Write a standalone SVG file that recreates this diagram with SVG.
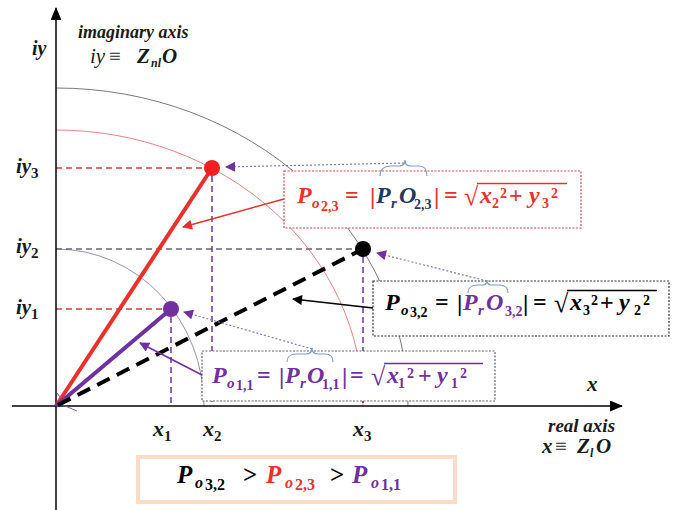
<svg xmlns="http://www.w3.org/2000/svg" width="677" height="510" viewBox="0 0 677 510">
<style>
.f{font-family:"Liberation Serif","DejaVu Serif",serif;font-size:24px;font-weight:bold;font-style:italic}
.op{font-style:normal}
.rt{font-style:normal;font-weight:normal;font-size:26px}
.sb{font-size:15px}
.sn{font-size:14px;font-style:normal}
.lbl{font-family:"Liberation Serif","DejaVu Serif",serif;font-weight:bold;font-style:italic;fill:#1a1a1a}
.arc{fill:none;stroke-width:1}
.box{fill:#fff;stroke-width:1.2;stroke-dasharray:2 1.5}
.brace{fill:none;stroke:#7f9cc4;stroke-width:1.2}
.dot{fill:none;stroke:#8a7ab8;stroke-width:1.2;stroke-dasharray:2 2}
</style>
<defs>
<marker id="axA" viewBox="0 0 12 10" refX="11" refY="5" markerWidth="13" markerHeight="11" markerUnits="userSpaceOnUse" orient="auto"><path d="M0,0 L12,5 L0,10 z" fill="#000"/></marker>
<marker id="ahP" viewBox="0 0 10 10" refX="9" refY="5" markerWidth="11" markerHeight="10" markerUnits="userSpaceOnUse" orient="auto"><path d="M0,0 L10,5 L0,10 z" fill="#7030a0"/></marker>
<marker id="ahR" viewBox="0 0 10 10" refX="9" refY="5" markerWidth="11" markerHeight="10" markerUnits="userSpaceOnUse" orient="auto"><path d="M0,0 L10,5 L0,10 z" fill="#e8312a"/></marker>
<marker id="ahK" viewBox="0 0 10 10" refX="9" refY="5" markerWidth="11" markerHeight="10" markerUnits="userSpaceOnUse" orient="auto"><path d="M0,0 L10,5 L0,10 z" fill="#000"/></marker>
</defs>
<rect width="677" height="510" fill="#fff"/>

<g id="arcs">
<path class="arc" stroke="#7a7a7a" d="M56,88 A352,318 0 0 1 408,406"/>
<path class="arc" stroke="#e58585" d="M56,130 A307,276 0 0 1 363,406"/>
<path class="arc" stroke="#9d8fb0" d="M56,249 A148,157 0 0 1 204,406"/>
</g>

<g id="guides" stroke-width="1.5" stroke-dasharray="6 4">
<line x1="56" y1="168" x2="204" y2="168" stroke="#d23c3c"/>
<line x1="56" y1="309" x2="163" y2="309" stroke="#d23c3c"/>
<line x1="56" y1="249" x2="355" y2="249" stroke="#6b6470"/>
<line x1="212" y1="176" x2="212" y2="406" stroke="#7030a0"/>
<line x1="363" y1="257" x2="363" y2="406" stroke="#7030a0"/>
<line x1="171" y1="317" x2="171" y2="406" stroke="#7030a0"/>
</g>

<g id="axes" stroke="#000" stroke-width="1.5">
<line x1="56" y1="510" x2="56" y2="8" marker-end="url(#axA)"/>
<line x1="12" y1="406" x2="622" y2="406" marker-end="url(#axA)"/>
<line x1="58" y1="403" x2="77" y2="411" stroke="#7b5ca8" stroke-width="1"/>
<line x1="57" y1="393" x2="63" y2="401" stroke="#7b5ca8" stroke-width="1"/>
</g>

<g id="vectors">
<line x1="56" y1="406" x2="212" y2="168" stroke="#e8312a" stroke-width="4"/>
<line x1="56" y1="406" x2="171" y2="309" stroke="#7030a0" stroke-width="4"/>
<line x1="58" y1="405" x2="363" y2="249" stroke="#000" stroke-width="4" stroke-dasharray="14 8"/>
</g>

<g id="point-red"><circle cx="212" cy="168" r="8" fill="#ee2020"/></g>
<g id="point-black"><circle cx="363" cy="249" r="8" fill="#000"/></g>
<g id="point-purple"><circle cx="171" cy="309" r="8" fill="#7030a0"/></g>

<g id="box-red">
<rect class="box" x="284" y="171" width="297" height="57" stroke="#c0504d"/>
<path class="brace" d="M380,176 C380,169 384,166 392,166 L399,166 C403,166 405,164 405,160 C405,164 407,166 411,166 L419,166 C424,166 427,169 427,176"/>
<text class="f" fill="#e8312a"><tspan x="297" y="203">P</tspan><tspan class="sb" x="312" y="208">o</tspan><tspan class="sn" x="321" y="211">2,3</tspan><tspan class="op" x="345" y="203">=</tspan><tspan class="op" x="370" y="204">|</tspan><tspan fill="#1f3864" x="376" y="203">P</tspan><tspan class="sb" fill="#1f3864" x="391" y="208">r</tspan><tspan fill="#1f3864" x="399" y="203">O</tspan><tspan class="sn" fill="#1f3864" x="414" y="209">2,3</tspan><tspan class="op" x="434" y="204">|</tspan><tspan class="op" x="444" y="203">=</tspan><tspan class="rt" x="464" y="205">√</tspan><tspan x="480" y="203">x</tspan><tspan class="sn" x="492" y="208">2</tspan><tspan class="sn" x="500" y="198">2</tspan><tspan class="op" x="509" y="203">+</tspan><tspan x="529" y="203">y</tspan><tspan class="sn" x="542" y="208">3</tspan><tspan class="sn" x="551" y="198">2</tspan></text>
<line x1="477" y1="183.5" x2="567" y2="183.5" stroke="#e8312a" stroke-width="1.5"/>
</g>

<g id="box-black">
<rect class="box" x="373" y="281" width="296" height="55" stroke="#333"/>
<path class="brace" d="M468,293 C468,287 471,285 478,285 L483,285 C486,285 487,283 487,280 C487,283 488,285 491,285 L499,285 C505,285 508,287 508,293"/>
<text class="f" fill="#000"><tspan x="385" y="310">P</tspan><tspan class="sb" x="401" y="315">o</tspan><tspan class="sn" x="410" y="317">3,2</tspan><tspan class="op" x="435" y="310">=</tspan><tspan class="op" x="457" y="311">|</tspan><tspan fill="#7030a0" x="463" y="310">P</tspan><tspan class="sb" fill="#7030a0" x="478" y="315">r</tspan><tspan fill="#7030a0" x="486" y="310">O</tspan><tspan class="sn" fill="#7030a0" x="505" y="316">3,2</tspan><tspan class="op" x="523" y="311">|</tspan><tspan class="op" x="533" y="310">=</tspan><tspan class="rt" x="554" y="312">√</tspan><tspan x="570" y="310">x</tspan><tspan class="sn" x="583" y="315">3</tspan><tspan class="sn" x="591" y="305">2</tspan><tspan class="op" x="600" y="310">+</tspan><tspan x="619" y="310">y</tspan><tspan class="sn" x="634" y="315">2</tspan><tspan class="sn" x="643" y="305">2</tspan></text>
<line x1="567" y1="290.5" x2="657" y2="290.5" stroke="#000" stroke-width="1.5"/>
</g>

<g id="box-purple">
<rect class="box" x="202" y="351" width="293" height="50" stroke="#666"/>
<path class="brace" d="M287,362 C287,356 290,354 297,354 L306,354 C310,354 312,352 312,348 C312,352 314,354 318,354 L325,354 C330,354 333,356 333,362"/>
<text class="f" fill="#7030a0"><tspan x="212" y="383">P</tspan><tspan class="sb" x="227" y="388">o</tspan><tspan class="sn" x="236" y="390">1,1</tspan><tspan class="op" x="257" y="383">=</tspan><tspan class="op" x="279" y="384">|</tspan><tspan x="285" y="383">P</tspan><tspan class="sb" x="300" y="388">r</tspan><tspan x="307" y="383">O</tspan><tspan class="sn" x="322" y="389">1,1</tspan><tspan class="op" x="342" y="384">|</tspan><tspan class="op" x="350" y="383">=</tspan><tspan class="rt" x="371" y="385">√</tspan><tspan x="387" y="383">x</tspan><tspan class="sn" x="398" y="388">1</tspan><tspan class="sn" x="407" y="378">2</tspan><tspan class="op" x="418" y="383">+</tspan><tspan x="437" y="383">y</tspan><tspan class="sn" x="451" y="388">1</tspan><tspan class="sn" x="460" y="378">2</tspan></text>
<line x1="384" y1="363.5" x2="483" y2="363.5" stroke="#7030a0" stroke-width="1.5"/>
</g>

<g id="box-compare">
<rect x="138" y="457" width="317" height="45" fill="#fff" stroke="#fbdcc8" stroke-width="4"/>
<text class="f" style="font-size:25px"><tspan x="177" y="483" fill="#000">P</tspan><tspan class="sb" style="font-size:16px" x="195" y="488" fill="#000">o</tspan><tspan class="sn" style="font-size:16px" x="205" y="490" fill="#000">3,2</tspan><tspan class="op" x="243" y="483" fill="#000">&gt;</tspan><tspan x="266" y="483" fill="#e8312a">P</tspan><tspan class="sb" style="font-size:16px" x="285" y="488" fill="#e8312a">o</tspan><tspan class="sn" style="font-size:16px" x="295" y="490" fill="#e8312a">2,3</tspan><tspan class="op" x="330" y="483" fill="#000">&gt;</tspan><tspan x="352" y="483" fill="#7030a0">P</tspan><tspan class="sb" style="font-size:16px" x="371" y="488" fill="#7030a0">o</tspan><tspan class="sn" style="font-size:16px" x="381" y="490" fill="#7030a0">1,1</tspan></text>
</g>

<g id="connectors">
<line class="dot" x1="404" y1="163" x2="226" y2="167" marker-end="url(#ahP)"/>
<line class="dot" x1="487" y1="281" x2="377" y2="253" marker-end="url(#ahP)"/>
<line class="dot" x1="312" y1="349" x2="184" y2="312" marker-end="url(#ahP)"/>
<line x1="284" y1="199" x2="183" y2="227" stroke="#e8312a" stroke-width="1.5" marker-end="url(#ahR)"/>
<line x1="373" y1="308" x2="293" y2="299" stroke="#000" stroke-width="1.5" marker-end="url(#ahK)"/>
<line x1="202" y1="375" x2="140" y2="343" stroke="#7030a0" stroke-width="1.5" marker-end="url(#ahP)"/>
</g>

<g id="labels">
<text class="lbl" x="78" y="38" font-size="18">imaginary axis</text>
<text class="lbl" y="63" font-size="21"><tspan x="90" font-weight="normal">iy</tspan><tspan x="109" font-style="normal" font-weight="normal">≡</tspan><tspan x="137">Z</tspan><tspan x="151" y="67" font-size="12">nl</tspan><tspan x="162" y="63">O</tspan></text>
<text class="lbl" x="32" y="55" font-size="20">iy</text>
<text class="lbl" y="173" font-size="21"><tspan x="16">iy</tspan><tspan x="31" y="178" font-size="15" font-style="normal">3</tspan></text>
<text class="lbl" y="253" font-size="21"><tspan x="16">iy</tspan><tspan x="31" y="258" font-size="15" font-style="normal">2</tspan></text>
<text class="lbl" y="314" font-size="21"><tspan x="16">iy</tspan><tspan x="31" y="319" font-size="15" font-style="normal">1</tspan></text>
<text class="lbl" y="436" font-size="22"><tspan x="153">x</tspan><tspan x="164" y="441" font-size="15" font-style="normal">1</tspan></text>
<text class="lbl" y="436" font-size="22"><tspan x="203">x</tspan><tspan x="214" y="441" font-size="15" font-style="normal">2</tspan></text>
<text class="lbl" y="436" font-size="22"><tspan x="353">x</tspan><tspan x="364" y="441" font-size="15" font-style="normal">3</tspan></text>
<text class="lbl" x="587" y="391" font-size="21">x</text>
<text class="lbl" x="548" y="432" font-size="19">real axis</text>
<text class="lbl" y="453" font-size="21"><tspan x="542">x</tspan><tspan x="555" font-style="normal" font-weight="normal">≡</tspan><tspan x="577">Z</tspan><tspan x="590" y="457" font-size="12">l</tspan><tspan x="596" y="453">O</tspan></text>
</g>
</svg>
